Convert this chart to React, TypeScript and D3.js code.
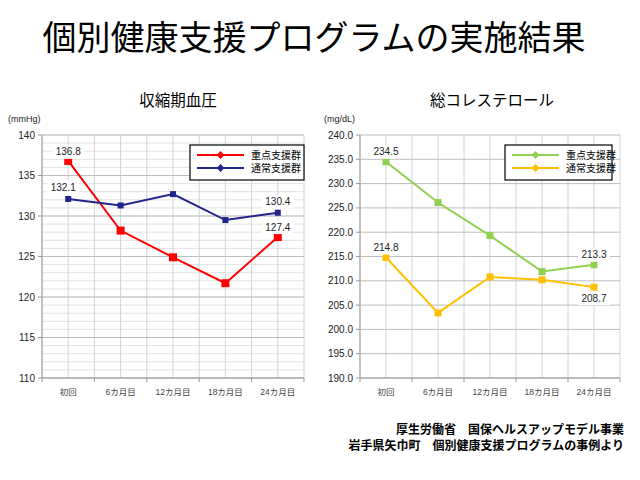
import React from "react";
import * as d3 from "d3";

const categories = ["初回", "6カ月目", "12カ月目", "18カ月目", "24カ月目"];
const seriesNames = ["重点支援群", "通常支援群"];
const bpFocus = [136.8, 128.2, 124.9, 121.7, 127.4];
const bpNormal = [132.1, 131.3, 132.7, 129.5, 130.4];
const cholFocus = [234.5, 226.1, 219.3, 211.9, 213.3];
const cholNormal = [214.8, 203.4, 210.8, 210.2, 208.7];
const bpTicks = [110, 115, 120, 125, 130, 135, 140];
const cholTicks = [190, 195, 200, 205, 210, 215, 220, 225, 230, 235, 240];

const JP = "'Liberation Sans', Arial, 'Noto Sans CJK JP', sans-serif";

type Label = { idx: number; series: 0 | 1; dx: number; dy: number };

function Chart(props: {
  x0: number; x1: number; yTop: number; yBot: number;
  domain: [number, number]; ticks: number[]; minorStep: number | null; fmt: (v: number) => string;
  data: number[][]; colors: string[]; markerSizes: number[];
  labels: Label[]; title: string; titleX: number; unit: string; unitX: number;
  legend: { x: number; y: number; w: number; h: number };
}) {
  const { x0, x1, yTop, yBot, domain, ticks, minorStep, fmt, data, colors, markerSizes, labels, legend } = props;
  const x = d3.scaleBand<string>().domain(categories).range([x0, x1]).padding(0);
  const y = d3.scaleLinear().domain(domain).range([yBot, yTop]);
  const bw = x.bandwidth();
  const cx = (c: string) => (x(c) as number) + bw / 2;
  const line = d3.line<number>().x((_, i) => cx(categories[i])).y((d) => y(d));
  const minor: number[] = [];
  if (minorStep) for (let v = domain[0]; v <= domain[1] + 1e-9; v += minorStep) minor.push(v);
  const vLines: number[] = [];
  categories.forEach((c) => { vLines.push(x(c) as number); vLines.push(cx(c)); });
  vLines.push(x1);
  return (
    <g>
      <text x={props.titleX} y={106} textAnchor="middle" fontSize={15.5} fontFamily={JP} fill="#000">{props.title}</text>
      <text x={props.unitX} y={122} fontSize={9} fontFamily={JP} fill="#222">{props.unit}</text>
      {minor.map((v, i) => (
        <line key={"m" + i} x1={x0} x2={x1} y1={y(v)} y2={y(v)} stroke="#e2e2e2" strokeWidth={1} />
      ))}
      {vLines.map((v, i) => (
        <line key={"v" + i} x1={v} x2={v} y1={yTop} y2={yBot} stroke="#d4d4d4" strokeWidth={1} />
      ))}
      {ticks.map((v, i) => (
        <g key={"t" + i}>
          <line x1={x0} x2={x1} y1={y(v)} y2={y(v)} stroke="#bdbdbd" strokeWidth={1} />
          <line x1={x0 - 4} x2={x0} y1={y(v)} y2={y(v)} stroke="#999" strokeWidth={1} />
          <text x={x0 - 7} y={y(v)} dy="0.35em" textAnchor="end" fontSize={10} fontFamily={JP} fill="#222">{fmt(v)}</text>
        </g>
      ))}
      <line x1={x0} x2={x0} y1={yTop} y2={yBot} stroke="#999" strokeWidth={1} />
      <line x1={x0} x2={x1} y1={yBot} y2={yBot} stroke="#999" strokeWidth={1} />
      {categories.map((c, i) => (
        <g key={"x" + i}>
          <line x1={x(c) as number} x2={x(c) as number} y1={yBot} y2={yBot + 4} stroke="#999" />
          <text x={cx(c)} y={yBot + 14} dy="0.35em" textAnchor="middle" fontSize={8.5} fontFamily={JP} fill="#444">{c}</text>
        </g>
      ))}
      <line x1={x1} x2={x1} y1={yBot} y2={yBot + 4} stroke="#999" />
      {data.map((s, si) => (
        <g key={"s" + si}>
          <path d={line(s) as string} fill="none" stroke={colors[si]} strokeWidth={2} />
          {s.map((v, i) => (
            <rect key={i} x={cx(categories[i]) - markerSizes[si] / 2} y={y(v) - markerSizes[si] / 2}
              width={markerSizes[si]} height={markerSizes[si]} fill={colors[si]} />
          ))}
        </g>
      ))}
      {labels.map((l, i) => {
        const v = data[l.series][l.idx];
        const tx = cx(categories[l.idx]) + l.dx;
        const ty = y(v) + l.dy;
        return (
          <g key={"l" + i}>
            <rect x={tx - 16} y={ty - 7} width={32} height={14} fill="#fff" />
            <text x={tx} y={ty} dy="0.35em" textAnchor="middle" fontSize={10} fontFamily={JP} fill="#222">{fmt(v)}</text>
          </g>
        );
      })}
      <rect x={legend.x} y={legend.y} width={legend.w} height={legend.h} fill="#fff" stroke="#000" strokeWidth={1.2} />
      {seriesNames.map((n, i) => {
        const ly = legend.y + 10 + i * 13;
        const lx = legend.x + 7;
        return (
          <g key={"lg" + i}>
            <line x1={lx} x2={lx + 47} y1={ly} y2={ly} stroke={colors[i]} strokeWidth={2} />
            <path d={`M${lx + 23.5},${ly - 4}L${lx + 27.5},${ly}L${lx + 23.5},${ly + 4}L${lx + 19.5},${ly}Z`} fill={colors[i]} />
            <text x={lx + 54} y={ly} dy="0.35em" fontSize={10} fontFamily={JP} fill="#000">{n}</text>
          </g>
        );
      })}
    </g>
  );
}

export default function App() {
  return (
    <svg width={640} height={480} style={{ position: "absolute", left: 0, top: 0, background: "#fff" }}>
      <rect width={640} height={480} fill="#fff" />
      <text x={314} y={38} dy="0.35em" textAnchor="middle" fontSize={34} fontFamily={JP} fill="#000">個別健康支援プログラムの実施結果</text>
      <Chart
        x0={42} x1={304} yTop={135} yBot={378}
        domain={[110, 140]} ticks={bpTicks} minorStep={1} fmt={(v) => d3.format("")(v)}
        data={[bpFocus, bpNormal]} colors={["#ff0000", "#23238e"]} markerSizes={[8, 6]}
        labels={[
          { idx: 0, series: 0, dx: 0, dy: -9 },
          { idx: 0, series: 1, dx: -5, dy: -11 },
          { idx: 4, series: 1, dx: 0, dy: -11 },
          { idx: 4, series: 0, dx: 0, dy: -10 },
        ]}
        title="収縮期血圧" titleX={178} unit="(mmHg)" unitX={8}
        legend={{ x: 190, y: 145, w: 114, h: 35 }}
      />
      <Chart
        x0={360} x1={620} yTop={135} yBot={378}
        domain={[190, 240]} ticks={cholTicks} minorStep={null} fmt={(v) => d3.format(".1f")(v)}
        data={[cholFocus, cholNormal]} colors={["#92d050", "#ffc000"]} markerSizes={[7, 7]}
        labels={[
          { idx: 0, series: 0, dx: 0, dy: -10 },
          { idx: 0, series: 1, dx: 0, dy: -10 },
          { idx: 4, series: 0, dx: 0, dy: -10 },
          { idx: 4, series: 1, dx: 0, dy: 11 },
        ]}
        title="総コレステロール" titleX={492} unit="(mg/dL)" unitX={324}
        legend={{ x: 505, y: 145, w: 107, h: 35 }}
      />
      <text x={624} y={430} dy="0.35em" textAnchor="end" fontSize={12} fontWeight="bold" fontFamily={JP} fill="#000">厚生労働省　国保ヘルスアップモデル事業</text>
      <text x={624} y={446} dy="0.35em" textAnchor="end" fontSize={12} fontWeight="bold" fontFamily={JP} fill="#000">岩手県矢巾町　個別健康支援プログラムの事例より</text>
    </svg>
  );
}
